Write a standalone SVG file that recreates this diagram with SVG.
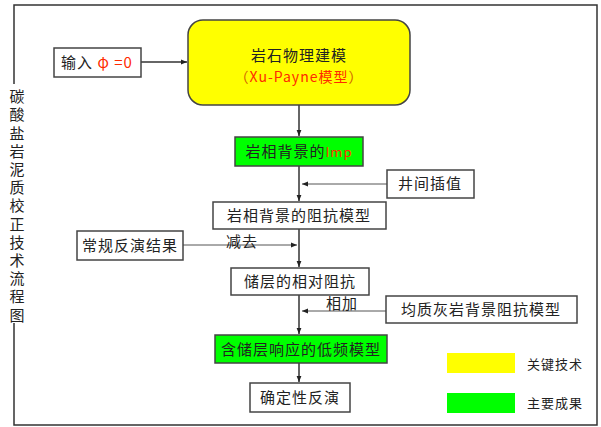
<svg xmlns="http://www.w3.org/2000/svg" width="601" height="427" viewBox="0 0 601 427">
<style>
text{font-family:"Noto Sans CJK SC","Liberation Sans",sans-serif;font-size:15px;fill:#222;letter-spacing:1px}
.box{fill:#fff;stroke:#444;stroke-width:1.5}
.yel{fill:#ffff00;stroke:#444;stroke-width:1.5}
.grn{fill:#00ff00;stroke:#444;stroke-width:1.5}
.red{fill:#ff2a00}
.org{fill:#d06000}
.ln{stroke:#333;stroke-width:1.5;fill:none}
.thin{stroke:#555;stroke-width:1;fill:none}
.lg{font-size:13px}
.vt{writing-mode:vertical-rl;letter-spacing:3.2px}
</style>
<defs>
<marker id="ah" viewBox="0 0 10 10" refX="10" refY="5" markerWidth="6" markerHeight="6" orient="auto" markerUnits="userSpaceOnUse">
<path d="M0,1 L10,5 L0,9 z" fill="#222"/>
</marker>
</defs>
<rect width="601" height="427" fill="#fff"/>
<g id="frame">
<path class="ln" d="M14,84 V5 H597 V425 H14 V323"/>
</g>
<g id="title">
<rect x="0" y="85" width="37" height="238" fill="#fff"/>
<text class="vt" x="17" y="89">碳酸盐岩泥质校正技术流程图</text>
</g>
<g id="connectors">
<line class="ln" x1="141" y1="62" x2="187" y2="62" marker-end="url(#ah)"/>
<line class="ln" x1="299" y1="105" x2="299" y2="136" marker-end="url(#ah)"/>
<line class="ln" x1="299" y1="166" x2="299" y2="201" marker-end="url(#ah)"/>
<line class="ln" x1="299" y1="229" x2="299" y2="267" marker-end="url(#ah)"/>
<line class="ln" x1="299" y1="295" x2="299" y2="334" marker-end="url(#ah)"/>
<line class="ln" x1="299" y1="363" x2="299" y2="382" marker-end="url(#ah)"/>
<line class="thin" x1="387" y1="184" x2="302" y2="184" marker-end="url(#ah)"/>
<line class="thin" x1="183" y1="245" x2="297" y2="245" marker-end="url(#ah)"/>
<line class="thin" x1="386" y1="311" x2="302" y2="311" marker-end="url(#ah)"/>
<text x="242" y="247" text-anchor="middle">减去</text>
<text x="342" y="309" text-anchor="middle">相加</text>
</g>
<g id="input">
<rect class="box" x="54" y="48" width="87" height="29"/>
<text x="97" y="68" text-anchor="middle">输入 <tspan class="red">φ =0</tspan></text>
</g>
<g id="rockphysics">
<rect class="yel" x="188" y="20" width="222" height="85" rx="15"/>
<text x="299" y="61" text-anchor="middle">岩石物理建模</text>
<text x="299" y="82" text-anchor="middle" style="font-size:14px"><tspan class="org">（</tspan><tspan class="red">Xu-Payne模型</tspan><tspan class="org">）</tspan></text>
</g>
<g id="imp">
<rect class="grn" x="235" y="137" width="128" height="29"/>
<text x="299" y="157" text-anchor="middle">岩相背景的<tspan class="red" style="font-size:13px">Imp</tspan></text>
</g>
<g id="interp">
<rect class="box" x="387" y="170" width="87" height="28"/>
<text x="430" y="189" text-anchor="middle">井间插值</text>
</g>
<g id="bgmodel">
<rect class="box" x="213" y="202" width="173" height="27"/>
<text x="299" y="221" text-anchor="middle">岩相背景的阻抗模型</text>
</g>
<g id="inversion">
<rect class="box" x="77" y="231" width="106" height="29"/>
<text x="130" y="251" text-anchor="middle">常规反演结果</text>
</g>
<g id="relimp">
<rect class="box" x="231" y="268" width="138" height="27"/>
<text x="300" y="287" text-anchor="middle">储层的相对阻抗</text>
</g>
<g id="limestone">
<rect class="box" x="386" y="296" width="191" height="27"/>
<text x="481" y="315" text-anchor="middle">均质灰岩背景阻抗模型</text>
</g>
<g id="lowfreq">
<rect class="grn" x="215" y="335" width="172" height="28"/>
<text x="301" y="355" text-anchor="middle">含储层响应的低频模型</text>
</g>
<g id="deterministic">
<rect class="box" x="250" y="383" width="100" height="29"/>
<text x="300" y="403" text-anchor="middle">确定性反演</text>
</g>
<g id="legend">
<rect x="447" y="353" width="68" height="20" fill="#ffff00"/>
<text class="lg" x="527" y="369">关键技术</text>
<rect x="447" y="393" width="68" height="20" fill="#00ff00"/>
<text class="lg" x="527" y="408">主要成果</text>
</g>
</svg>
